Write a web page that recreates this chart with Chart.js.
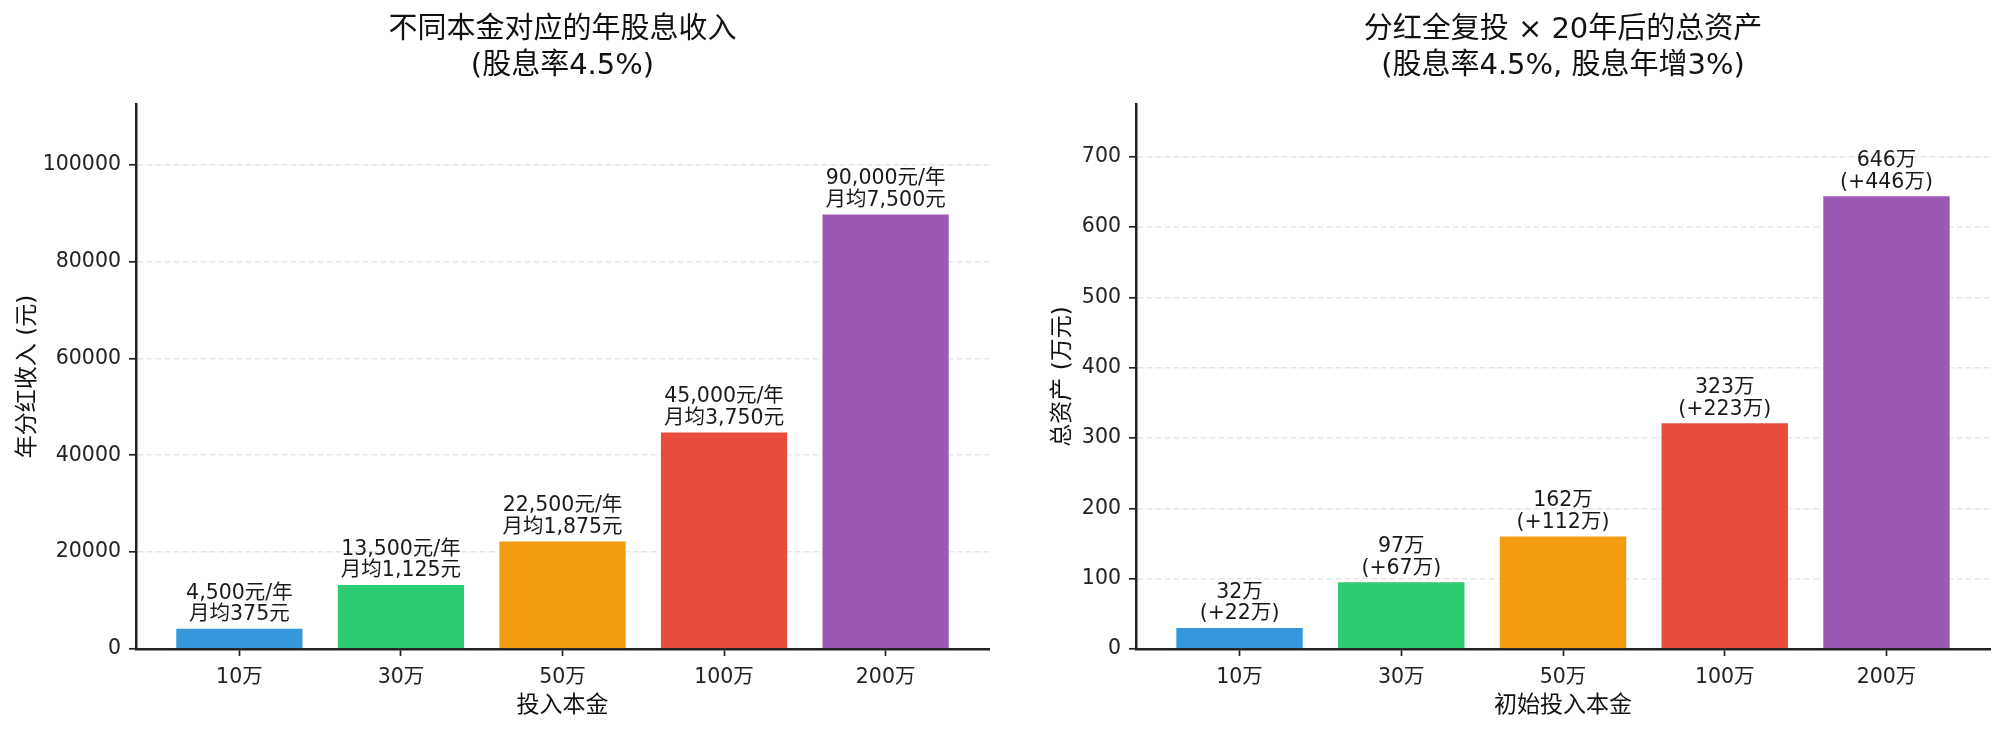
<!DOCTYPE html>
<html><head><meta charset="utf-8">
<script src="https://cdn.jsdelivr.net/npm/chart.js@4.4.1/dist/chart.umd.min.js"></script>
<style>
html,body{margin:0;padding:0;background:#fff;}
#wrap{position:relative;width:2005px;height:730px;background:#fff;}
.box{position:absolute;top:0;height:730px;}
</style></head><body>
<div id="wrap">
<div class="box" style="left:0;width:1000px"><canvas id="c1" width="1000" height="730"></canvas></div>
<div class="box" style="left:1000px;width:1005px"><canvas id="c2" width="1005" height="730"></canvas></div>
</div>
<script>
// ---- data ----
const categories = ['10万', '30万', '50万', '100万', '200万'];
const annualIncome = [4500, 13500, 22500, 45000, 90000];
const incomeLabelTop = ['4,500元/年', '13,500元/年', '22,500元/年', '45,000元/年', '90,000元/年'];
const incomeLabelBottom = ['月均375元', '月均1,125元', '月均1,875元', '月均3,750元', '月均7,500元'];
const incomeTicks = [0, 20000, 40000, 60000, 80000, 100000];
const incomeMax = 112500;

const totalAssets = [32, 97, 162, 323, 646];
const assetLabelTop = ['32万', '97万', '162万', '323万', '646万'];
const assetLabelBottom = ['(+22万)', '(+67万)', '(+112万)', '(+223万)', '(+446万)'];
const assetTicks = [0, 100, 200, 300, 400, 500, 600, 700];
const assetMax = 775;

// ---- style ----
const barColors = ['#3498db', '#2ecc71', '#f39c12', '#e74c3c', '#9b59b6'];
const FONT = "'DejaVu Sans', 'Noto Sans CJK SC', sans-serif";
const INK = '#222222';

const labelPlugin = {
  id: 'barLabels',
  afterDatasetsDraw(chart, args, opts) {
    const meta = chart.getDatasetMeta(0);
    const ctx = chart.ctx;
    ctx.save();
    ctx.font = '20.5px ' + FONT;
    ctx.fillStyle = '#1a1a1a';
    ctx.textAlign = 'center';
    ctx.textBaseline = 'middle';
    meta.data.forEach((bar, i) => {
      ctx.fillText(opts.top[i], bar.x, bar.y - 34);
      ctx.fillText(opts.bottom[i], bar.x, bar.y - 12.5);
    });
    ctx.restore();
  }
};

function build(id, values, topLabels, bottomLabels, yTicks, yMax, title, xTitle, yTitle, yTitlePad, padRight) {
  const points = values.map((v, i) => ({ x: i, y: v }));
  return new Chart(document.getElementById(id), {
    type: 'bar',
    data: { datasets: [{
      data: points,
      backgroundColor: barColors,
      borderColor: 'rgba(255,255,255,0.85)',
      borderWidth: 1.5,
      barPercentage: 0.8,
      categoryPercentage: 1
    }] },
    plugins: [labelPlugin],
    options: {
      responsive: false,
      animation: false,
      layout: { padding: { left: 0, right: padRight, top: 0, bottom: 0 } },
      plugins: {
        legend: { display: false },
        tooltip: { enabled: false },
        title: {
          display: true, text: title, fullSize: false, color: '#111',
          font: { family: FONT, size: 29, lineHeight: 1.25, weight: 'normal' },
          padding: { top: 12, bottom: 19.5 }
        },
        barLabels: { top: topLabels, bottom: bottomLabels }
      },
      scales: {
        x: {
          type: 'linear', min: -0.64, max: 4.64, offset: false,
          afterBuildTicks: s => { s.ticks = categories.map((c, i) => ({ value: i })); },
          afterFit: s => { s.height = 81; },
          ticks: { callback: v => categories[v], color: INK, font: { family: FONT, size: 20.5 }, padding: 9, maxRotation: 0, autoSkip: false },
          grid: { offset: false, drawOnChartArea: false, drawTicks: true, tickLength: 7, tickColor: INK, tickWidth: 1.7 },
          border: { display: true, color: INK, width: 2.5 },
          title: { display: true, text: xTitle, color: '#111', font: { family: FONT, size: 23 }, padding: { top: 4, bottom: 10 } }
        },
        y: {
          type: 'linear', min: 0, max: yMax,
          afterBuildTicks: s => { s.ticks = yTicks.map(v => ({ value: v })); },
          afterFit: s => { s.width = 136; },
          ticks: { callback: v => String(v), color: INK, font: { family: FONT, size: 20.5 }, padding: 8 },
          grid: { color: '#e6e6e6', lineWidth: 1.6, drawTicks: true, tickLength: 7, tickColor: INK, tickWidth: 1.7 },
          border: { display: true, color: INK, width: 2.5, dash: [6, 3] },
          title: { display: true, text: yTitle, color: '#111', font: { family: FONT, size: 23 }, padding: { top: yTitlePad, bottom: 4 } }
        }
      }
    }
  });
}

build('c1', annualIncome, incomeLabelTop, incomeLabelBottom, incomeTicks, incomeMax,
  ['不同本金对应的年股息收入', '(股息率4.5%)'], '投入本金', '年分红收入 (元)', 14, 11);
build('c2', totalAssets, assetLabelTop, assetLabelBottom, assetTicks, assetMax,
  ['分红全复投 × 20年后的总资产', '(股息率4.5%, 股息年增3%)'], '初始投入本金', '总资产 (万元)', 49, 15);
</script>
</body></html>
